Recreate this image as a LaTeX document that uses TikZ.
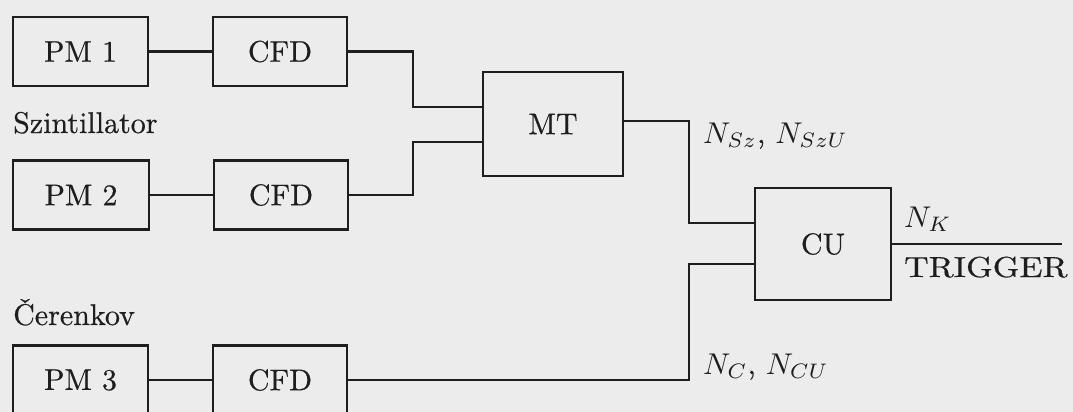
\documentclass[tikz,border=0pt]{standalone}
\usepackage{graphicx}
\usepackage{fontspec}
\newfontfamily\heavy{lmroman10-regular.otf}[FakeBold=0.5]
\definecolor{paper}{RGB}{236,236,236}
\definecolor{ink}{RGB}{30,30,30}
% text set at 10pt and enlarged, so it keeps the 10pt design
\newcommand{\bt}[1]{\scalebox{3}{\heavy #1}}
\begin{document}
\begin{tikzpicture}[x=1pt,y=-1pt,
  blk/.style={draw=ink, line width=2.2pt, inner sep=0pt, text=ink},
  wire/.style={draw=ink, line width=2.1pt},
  lbl/.style={inner sep=0pt, text=ink, anchor=base west}]
\fill[paper] (0,0) rectangle (1073,412);
\useasboundingbox (0,0) rectangle (1073,412);

% detector chain: photomultipliers and discriminators
\node[blk, minimum width=135pt, minimum height=69pt] (pm1)  at (80.5,51.5) {\bt{PM 1}};
\node[blk, minimum width=134pt, minimum height=69pt] (cfd1) at (280,51.5)  {\bt{CFD}};
\node[blk, minimum width=136pt, minimum height=69pt] (pm2)  at (81,195)    {\bt{PM 2}};
\node[blk, minimum width=134pt, minimum height=69pt] (cfd2) at (281,195)   {\bt{CFD}};
\node[blk, minimum width=135pt, minimum height=69pt] (pm3)  at (80.5,380)  {\bt{PM 3}};
\node[blk, minimum width=134pt, minimum height=69pt] (cfd3) at (280,380)   {\bt{CFD}};

% coincidence logic
\node[blk, minimum width=140pt, minimum height=104pt] (mt) at (553,124) {\bt{MT}};
\node[blk, minimum width=136pt, minimum height=112pt] (cu) at (823,244) {\bt{CU}};

% group labels
\node[lbl] (szl) at (13,133) {\bt{Szintillator}};
\node[lbl] (cer) at (13,325) {\bt{Čerenkov}};

% signal labels
\node[lbl] (nsz) at (703,143) {\bt{$N_{Sz}$, $N_{SzU}$}};
\node[lbl] (nc)  at (703,374) {\bt{$N_{C}$, $N_{CU}$}};
\node[lbl] (nk)  at (904,227) {\bt{$N_{K}$}};
\node[lbl] (trg) at (904,277) {\scalebox{3.4}[2.9]{\heavy TRIGGER}};

% routing points
\coordinate (j1) at (413,0);
\coordinate (j2) at (689,0);
\coordinate (mtA) at ([yshift=17pt]mt.west);
\coordinate (mtB) at ([yshift=-18pt]mt.west);
\coordinate (mtO) at ([yshift=3pt]mt.east);
\coordinate (cuA) at ([yshift=21pt]cu.west);
\coordinate (cuB) at ([yshift=-20pt]cu.west);
\coordinate (out) at (1062,244);

% connections
\draw[wire] (pm1) -- (cfd1);
\draw[wire] (pm2) -- (cfd2);
\draw[wire] (pm3) -- (cfd3);
\draw[wire] (cfd1.east) -| (j1 |- mtA) -- (mtA);
\draw[wire] (cfd2.east) -| (j1 |- mtB) -- (mtB);
\draw[wire] (mtO) -| (j2 |- cuA) -- (cuA);
\draw[wire] (cfd3.east) -| (j2 |- cuB) -- (cuB);
\draw[wire] (cu.east) -- (out);
\end{tikzpicture}
\end{document}
